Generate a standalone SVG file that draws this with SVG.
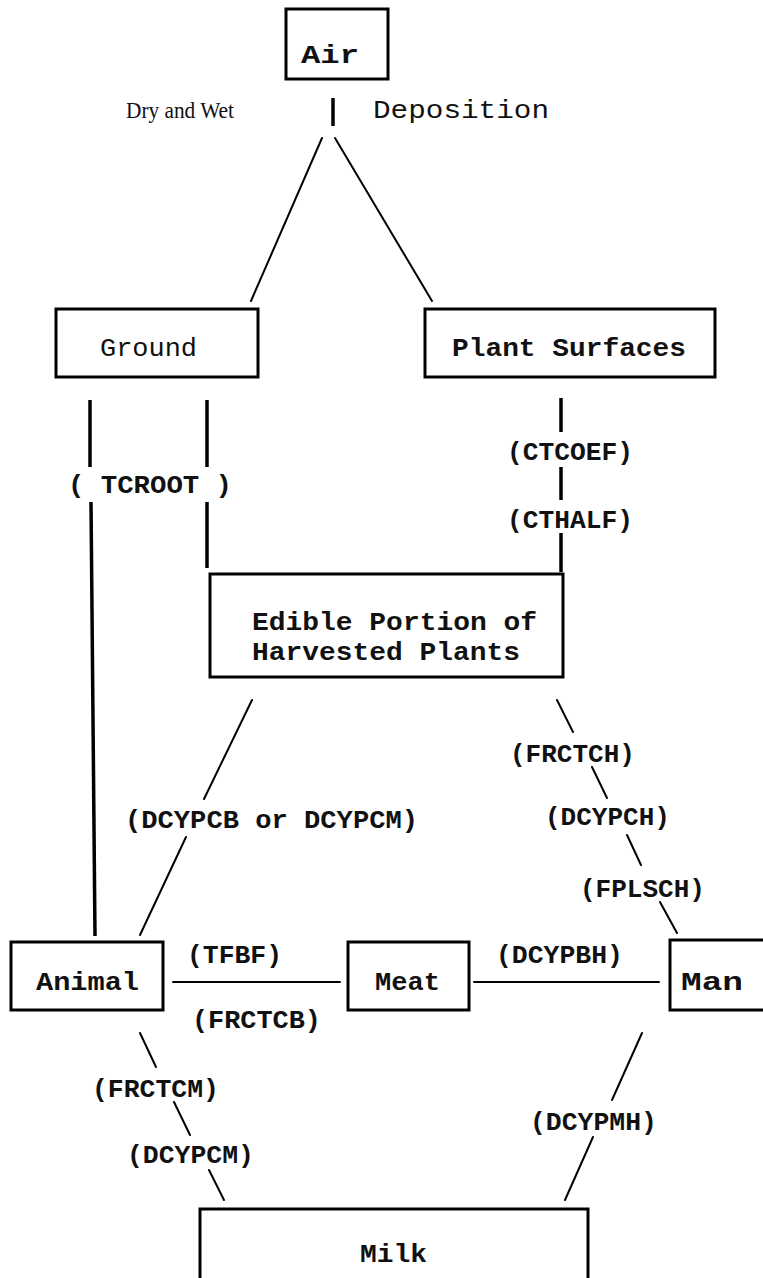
<svg xmlns="http://www.w3.org/2000/svg" width="763" height="1278" viewBox="0 0 763 1278">
<style>
.box{fill:#fff;stroke:#000;stroke-width:3}
.t{font-family:"Liberation Mono","DejaVu Sans Mono",monospace;font-size:25px;font-weight:bold;fill:#111}
.n{font-weight:normal}
.s{font-family:"Liberation Serif","DejaVu Serif",serif;font-size:23px;font-weight:normal;fill:#111}
.c{stroke:#000;stroke-width:2;fill:none;stroke-linecap:round}
.v{stroke:#000;stroke-width:3.5;fill:none}
</style>
<rect width="763" height="1278" fill="#fff"/>
<g id="connectors">
<line class="v" x1="333" y1="98" x2="333" y2="126"/>
<line class="c" x1="322" y1="138" x2="251" y2="301"/>
<line class="c" x1="335" y1="138" x2="432" y2="301"/>
<line class="v" x1="90" y1="400" x2="90" y2="467"/>
<line class="v" x1="91" y1="502" x2="95" y2="936"/>
<line class="v" x1="207" y1="400" x2="207" y2="467"/>
<line class="v" x1="207" y1="502" x2="207" y2="568"/>
<line class="v" x1="561" y1="398" x2="561" y2="432"/>
<line class="v" x1="561" y1="467" x2="561" y2="500"/>
<line class="v" x1="561" y1="533" x2="561" y2="572"/>
<line class="c" x1="252" y1="700" x2="204" y2="799"/>
<line class="c" x1="186" y1="837" x2="140" y2="935"/>
<line class="c" x1="557" y1="700" x2="573" y2="732"/>
<line class="c" x1="592" y1="767" x2="607" y2="798"/>
<line class="c" x1="627" y1="835" x2="641" y2="865"/>
<line class="c" x1="660" y1="902" x2="677" y2="933"/>
<line class="c" x1="173" y1="982" x2="340" y2="982"/>
<line class="c" x1="474" y1="982" x2="659" y2="982"/>
<line class="c" x1="140" y1="1033" x2="156" y2="1067"/>
<line class="c" x1="174" y1="1102" x2="190" y2="1135"/>
<line class="c" x1="209" y1="1170" x2="224" y2="1200"/>
<line class="c" x1="642" y1="1033" x2="612" y2="1100"/>
<line class="c" x1="593" y1="1137" x2="565" y2="1200"/>
</g>
<g id="labels">
<text class="s" x="126" y="118" textLength="108" lengthAdjust="spacingAndGlyphs">Dry and Wet</text>
<text class="t n" x="373" y="118" textLength="176" lengthAdjust="spacingAndGlyphs">Deposition</text>
<text class="t" x="68" y="493" textLength="164" lengthAdjust="spacingAndGlyphs">( TCROOT )</text>
<text class="t" x="507" y="460" textLength="126" lengthAdjust="spacingAndGlyphs">(CTCOEF)</text>
<text class="t" x="507" y="528" textLength="126" lengthAdjust="spacingAndGlyphs">(CTHALF)</text>
<text class="t" x="125" y="828" textLength="293" lengthAdjust="spacingAndGlyphs">(DCYPCB or DCYPCM)</text>
<text class="t" x="510" y="762" textLength="125" lengthAdjust="spacingAndGlyphs">(FRCTCH)</text>
<text class="t" x="545" y="825" textLength="125" lengthAdjust="spacingAndGlyphs">(DCYPCH)</text>
<text class="t" x="580" y="897" textLength="125" lengthAdjust="spacingAndGlyphs">(FPLSCH)</text>
<text class="t" x="187" y="963" textLength="95" lengthAdjust="spacingAndGlyphs">(TFBF)</text>
<text class="t" x="192" y="1028" textLength="129" lengthAdjust="spacingAndGlyphs">(FRCTCB)</text>
<text class="t" x="496" y="963" textLength="127" lengthAdjust="spacingAndGlyphs">(DCYPBH)</text>
<text class="t" x="92" y="1097" textLength="127" lengthAdjust="spacingAndGlyphs">(FRCTCM)</text>
<text class="t" x="127" y="1163" textLength="127" lengthAdjust="spacingAndGlyphs">(DCYPCM)</text>
<text class="t" x="530" y="1130" textLength="127" lengthAdjust="spacingAndGlyphs">(DCYPMH)</text>
</g>
<g id="air"><rect class="box" x="286" y="9" width="102" height="70"/><text class="t" x="301" y="63" textLength="58" lengthAdjust="spacingAndGlyphs">Air</text></g>
<g id="ground"><rect class="box" x="56" y="309" width="202" height="68"/><text class="t n" x="100" y="356" textLength="97" lengthAdjust="spacingAndGlyphs">Ground</text></g>
<g id="plant-surfaces"><rect class="box" x="425" y="309" width="290" height="68"/><text class="t" x="452" y="356" textLength="234" lengthAdjust="spacingAndGlyphs">Plant Surfaces</text></g>
<g id="edible"><rect class="box" x="210" y="574" width="353" height="103"/><text class="t" x="252" y="630" textLength="285" lengthAdjust="spacingAndGlyphs">Edible Portion of</text><text class="t" x="252" y="660" textLength="268" lengthAdjust="spacingAndGlyphs">Harvested Plants</text></g>
<g id="animal"><rect class="box" x="11" y="942" width="152" height="68"/><text class="t" x="36" y="990" textLength="103" lengthAdjust="spacingAndGlyphs">Animal</text></g>
<g id="meat"><rect class="box" x="348" y="942" width="121" height="68"/><text class="t" x="375" y="990" textLength="65" lengthAdjust="spacingAndGlyphs">Meat</text></g>
<g id="man"><rect class="box" x="670" y="940" width="110" height="70"/><text class="t" x="681" y="990" textLength="62" lengthAdjust="spacingAndGlyphs">Man</text></g>
<g id="milk"><rect class="box" x="200" y="1209" width="388" height="90"/><text class="t" x="360" y="1262" textLength="67" lengthAdjust="spacingAndGlyphs">Milk</text></g>
</svg>
